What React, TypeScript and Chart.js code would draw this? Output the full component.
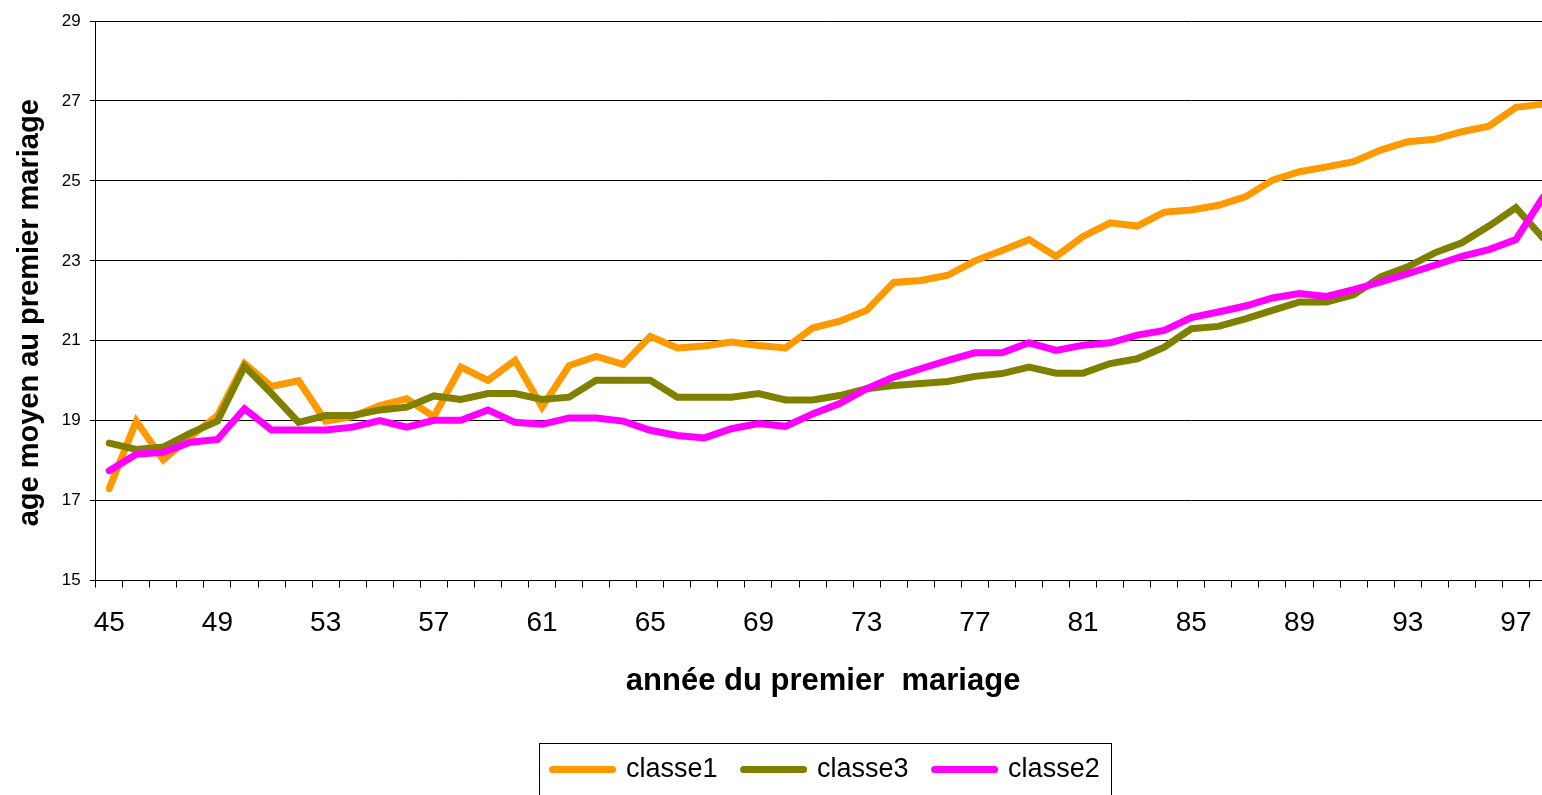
import React, { useEffect, useRef } from "react";
import { Chart, registerables } from "chart.js";

Chart.register(...registerables);

const years: string[] = [
  "45","46","47","48","49","50","51","52","53","54","55","56","57","58","59","60","61","62","63","64",
  "65","66","67","68","69","70","71","72","73","74","75","76","77","78","79","80","81","82","83","84",
  "85","86","87","88","89","90","91","92","93","94","95","96","97","98",
];

const classe1: number[] = [
  17.30, 18.99, 18.02, 18.60, 19.13, 20.43, 19.86, 20.00, 18.99, 19.10,
  19.38, 19.55, 19.10, 20.34, 20.01, 20.51, 19.34, 20.38, 20.61, 20.41,
  21.11, 20.82, 20.87, 20.97, 20.88, 20.82, 21.32, 21.49, 21.76, 22.46,
  22.51, 22.64, 23.00, 23.26, 23.53, 23.11, 23.61, 23.95, 23.87, 24.22,
  24.27, 24.39, 24.60, 25.02, 25.23, 25.35, 25.48, 25.77, 25.98, 26.04,
  26.23, 26.37, 26.84, 26.92,
];

const classe3: number[] = [
  18.44, 18.28, 18.34, 18.69, 18.99, 20.36, 19.68, 18.96, 19.13, 19.13,
  19.27, 19.34, 19.62, 19.53, 19.68, 19.68, 19.53, 19.59, 20.01, 20.01,
  20.01, 19.59, 19.59, 19.59, 19.68, 19.52, 19.52, 19.63, 19.80, 19.88,
  19.93, 19.98, 20.11, 20.18, 20.34, 20.19, 20.19, 20.43, 20.55, 20.84,
  21.30, 21.36, 21.55, 21.76, 21.97, 21.97, 22.15, 22.60, 22.85, 23.20,
  23.45, 23.87, 24.33, 23.57,
];

const classe2: number[] = [
  17.75, 18.16, 18.21, 18.46, 18.53, 19.30, 18.77, 18.77, 18.77, 18.84,
  19.00, 18.84, 19.01, 19.01, 19.27, 18.96, 18.91, 19.07, 19.07, 18.99,
  18.76, 18.63, 18.57, 18.80, 18.93, 18.86, 19.17, 19.43, 19.80, 20.09,
  20.30, 20.51, 20.70, 20.70, 20.95, 20.76, 20.89, 20.95, 21.14, 21.26,
  21.58, 21.72, 21.87, 22.07, 22.18, 22.11, 22.28, 22.47, 22.68, 22.89,
  23.11, 23.28, 23.53, 24.59,
];

const seriesNames: string[] = ["classe1", "classe3", "classe2"];
const seriesColors: string[] = ["#FF9900", "#808000", "#FF00FF"];

const yTitle = "age moyen au premier mariage";
const xTitle = "année du premier  mariage";

const FONT = "'Liberation Sans', Arial, Helvetica, sans-serif";

export default function App() {
  const canvasRef = useRef<HTMLCanvasElement | null>(null);

  useEffect(() => {
    if (!canvasRef.current) return;
    Chart.defaults.font.family = FONT;
    Chart.defaults.color = "#000";

    const seriesData = [classe1, classe3, classe2];
    const orders = [3, 2, 1];

    const decorPlugin = {
      id: "decor",
      afterLayout(chart: any) {
        const lg = chart.legend;
        if (lg) {
          lg.left = chart.chartArea.left;
          lg.right = chart.chartArea.right;
        }
      },
      afterDraw(chart: any) {
        const ctx = chart.ctx;
        const ca = chart.chartArea;
        // legend frame
        const lg = chart.legend;
        if (lg && lg.legendHitBoxes && lg.legendHitBoxes.length) {
          const hb = lg.legendHitBoxes;
          const first = hb[0];
          const last = hb[hb.length - 1];
          const left = Math.round(first.left - 14) + 0.5;
          const right = Math.round(last.left + last.width + 11) + 0.5;
          const top = Math.round(first.top + first.height / 2 - 27) + 0.5;
          ctx.save();
          ctx.strokeStyle = "#000";
          ctx.lineWidth = 1;
          ctx.strokeRect(left, top, right - left, 100);
          ctx.restore();
        }
        // axis titles
        const ys = chart.scales.y;
        ctx.save();
        ctx.fillStyle = "#000";
        ctx.textAlign = "center";
        ctx.textBaseline = "middle";
        ctx.font = `bold 29px ${FONT}`;
        ctx.translate(ys.left + 7 + 17.4, (ca.top + ca.bottom) / 2 + 12);
        ctx.rotate(-Math.PI / 2);
        ctx.fillText(yTitle, 0, 0);
        ctx.restore();

        const xs = chart.scales.x;
        ctx.save();
        ctx.fillStyle = "#000";
        ctx.textAlign = "center";
        ctx.textBaseline = "middle";
        ctx.font = `bold 31px ${FONT}`;
        ctx.fillText(xTitle, (ca.left + ca.right) / 2 - 3, xs.bottom - 31 - 17.4);
        ctx.restore();
      },
    };

    const chart = new Chart(canvasRef.current, {
      type: "line",
      data: {
        labels: years,
        datasets: seriesNames.map((name, i) => ({
          label: name,
          data: seriesData[i],
          borderColor: seriesColors[i],
          backgroundColor: seriesColors[i],
          borderWidth: 7,
          pointRadius: 0,
          pointHoverRadius: 0,
          tension: 0,
          fill: false,
          borderCapStyle: "round",
          borderJoinStyle: "miter",
          order: orders[i],
        })),
      },
      options: {
        animation: false,
        responsive: false,
        layout: { padding: { left: 6, right: 4, top: 21, bottom: 2 } },
        plugins: {
          tooltip: { enabled: false },
          legend: {
            position: "bottom",
            labels: {
              usePointStyle: true,
              pointStyle: "line",
              pointStyleWidth: 60,
              padding: 26,
              color: "#000",
              font: { size: 27, family: FONT },
              generateLabels: (ch: any) =>
                ch.data.datasets.map((ds: any, i: number) => ({
                  text: ds.label,
                  fillStyle: ds.borderColor,
                  strokeStyle: ds.borderColor,
                  lineWidth: 7,
                  lineCap: "round",
                  pointStyle: "line",
                  hidden: false,
                  datasetIndex: i,
                  fontColor: "#000",
                })),
            },
          },
        },
        scales: {
          x: {
            type: "category",
            offset: true,
            grid: {
              offset: true,
              drawOnChartArea: false,
              drawTicks: true,
              tickLength: 7,
              color: "#000",
            },
            border: { color: "#000", width: 1 },
            ticks: {
              autoSkip: false,
              maxRotation: 0,
              minRotation: 0,
              padding: 19,
              color: "#000",
              font: { size: 28, family: FONT },
              callback: (_v: any, index: number) => (index % 4 === 0 ? years[index] : ""),
            },
            title: {
              display: true,
              text: xTitle,
              color: "rgba(0,0,0,0)",
              font: { size: 29, weight: "bold", family: FONT },
              padding: { top: 5, bottom: 31 },
            },
          },
          y: {
            min: 15,
            max: 29,
            grid: {
              color: "#000",
              lineWidth: 1,
              drawTicks: true,
              tickLength: 6,
            },
            border: { color: "#000", width: 1 },
            ticks: {
              stepSize: 2,
              padding: 9,
              color: "#000",
              font: { size: 17, family: FONT },
            },
            title: {
              display: true,
              text: yTitle,
              color: "rgba(0,0,0,0)",
              font: { size: 29, weight: "bold", family: FONT },
              padding: { top: 7, bottom: 5 },
            },
          },
        },
      },
      plugins: [decorPlugin],
    } as any);

    return () => chart.destroy();
  }, []);

  return (
    <div
      style={{
        position: "absolute",
        left: 0,
        top: 0,
        width: 1542,
        height: 795,
        overflow: "hidden",
        background: "#fff",
      }}
    >
      <canvas
        ref={canvasRef}
        width={1562}
        height={795}
        style={{ width: 1562, height: 795, display: "block" }}
      />
    </div>
  );
}
